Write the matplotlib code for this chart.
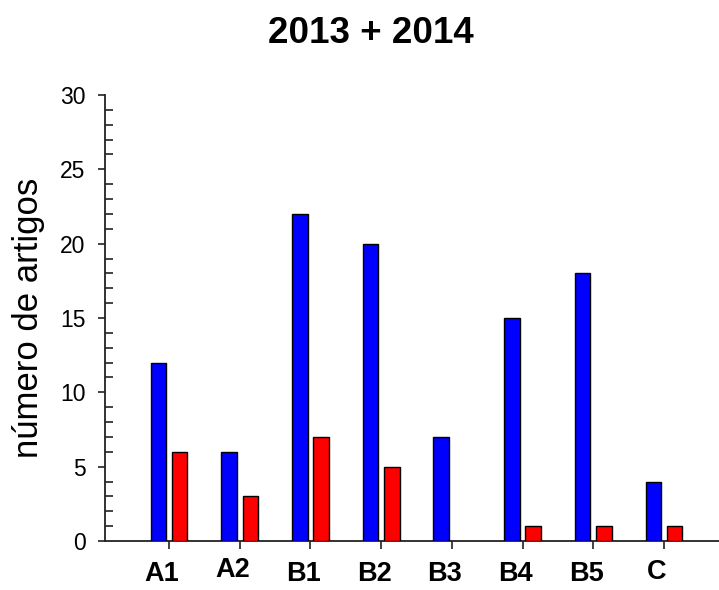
import matplotlib
matplotlib.use("Agg")
import matplotlib.pyplot as plt
import matplotlib.transforms as mtransforms
import numpy as np
from matplotlib.ticker import MultipleLocator

categories = ["A1", "A2", "B1", "B2", "B3", "B4", "B5", "C"]
blue_values = [12, 6, 22, 20, 7, 15, 18, 4]
red_values = [6, 3, 7, 5, 0, 1, 1, 1]

plt.rcParams['font.family'] = ['Liberation Sans', 'DejaVu Sans']

fig = plt.figure(figsize=(7.19, 5.90), dpi=100)
ax = fig.add_axes([105/719, 49/590, 614/719, 446/590])

x = np.arange(len(categories))
w = 0.22
off = 0.15
ax.bar(x - off, blue_values, width=w, color='#0000ff', edgecolor='black', linewidth=1.0, zorder=3)
ax.bar(x + off, [v if v > 0 else np.nan for v in red_values], width=w, color='#ff0000', edgecolor='black', linewidth=1.0, zorder=3)

ax.set_xlim(-64/70.67, 7 + 55/70.67)
ax.set_ylim(0, 30)

ax.spines['top'].set_visible(False)
ax.spines['right'].set_visible(False)
for s in ['left', 'bottom']:
    ax.spines[s].set_linewidth(1.3)
    ax.spines[s].set_color('#222222')

ax.yaxis.set_major_locator(MultipleLocator(5))
ax.yaxis.set_minor_locator(MultipleLocator(1))
ax.tick_params(axis='y', which='major', direction='out', length=5, width=1.2, labelsize=16.5, pad=9, color='#222222')
ax.tick_params(axis='y', which='minor', direction='in', length=6, width=1.2, color='#222222')
ax.set_xticks(x)
ax.set_xticklabels(categories, fontweight='bold', fontsize=19.5)
ax.tick_params(axis='x', which='major', direction='out', length=6, width=1.2, pad=8.5, color='#222222')

# small per-label nudges (pixels) as in the reference
label_dy = {"A2": 4, "C": 2}
for lbl in ax.get_xticklabels():
    dy = label_dy.get(lbl.get_text(), 0)
    shift = mtransforms.ScaledTranslation(-7/100, dy/100, fig.dpi_scale_trans)
    lbl.set_transform(lbl.get_transform() + shift)

ax.set_ylabel("número de artigos", fontsize=25, labelpad=11)
fig.text(371/719, 1 - 43.3/590, "2013 + 2014", fontsize=26.5, fontweight='bold', ha='center', va='baseline')

fig.savefig("out.png", dpi=100)
